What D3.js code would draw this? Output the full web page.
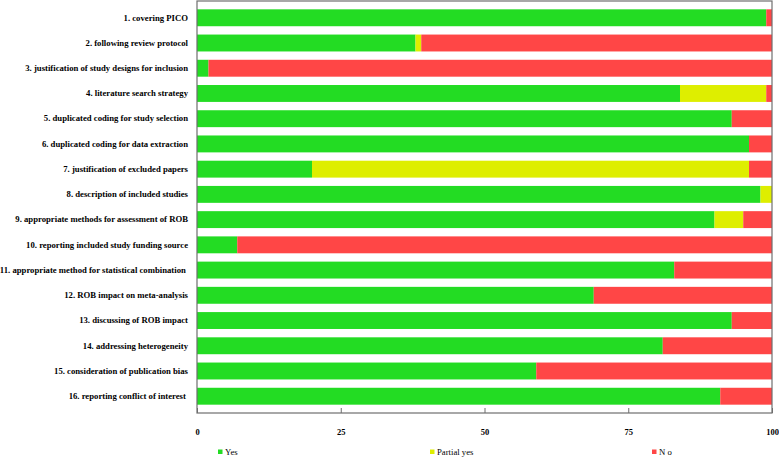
<!DOCTYPE html>
<html>
<head>
<meta charset="utf-8">
<script src="https://cdn.jsdelivr.net/npm/d3@7"></script>
<style>
  html, body { margin: 0; padding: 0; background: #fff; }
  svg { display: block; }
</style>
</head>
<body>
<svg id="chart" width="779" height="458"></svg>
<script>
const categories = [
  "1. covering PICO",
  "2. following review protocol",
  "3. justification of study designs for inclusion",
  "4. literature search strategy",
  "5. duplicated coding for study selection",
  "6. duplicated coding for data extraction",
  "7. justification of excluded papers",
  "8. description of included studies",
  "9. appropriate methods for assessment of ROB",
  "10. reporting included study funding source",
  "11. appropriate method for statistical combination ",
  "12. ROB impact on meta-analysis",
  "13. discussing of ROB impact",
  "14. addressing heterogeneity",
  "15. consideration of publication bias",
  "16. reporting conflict of interest "
];
const yesValues     = [99, 38, 2, 84, 93, 96, 20, 98, 90, 7, 83, 69, 93, 81, 59, 91];
const partialValues = [0, 1, 0, 15, 0, 0, 76, 2, 5, 0, 0, 0, 0, 0, 0, 0];
const noValues      = [1, 61, 98, 1, 7, 4, 4, 0, 5, 93, 17, 31, 7, 19, 41, 9];
const seriesNames = ["Yes", "Partial yes", "N o"];
const seriesColors = ["#23DC23", "#DEEE00", "#FF4646"];
const xTicks = [0, 25, 50, 75, 100];

const svg = d3.select("#chart");
const plotLeft = 197, plotRight = 772, plotTop = 1, plotBottom = 413;

const x = d3.scaleLinear().domain([0, 100]).range([plotLeft, plotRight]);
const y = d3.scaleBand().domain(categories).range([plotTop, plotBottom]).paddingInner(0.33).paddingOuter(0.33);

const rows = categories.map((c, i) => ({cat: c, Yes: yesValues[i], Partial: partialValues[i], No: noValues[i]}));
const stack = d3.stack().keys(["Yes", "Partial", "No"])(rows);

stack.forEach((layer, li) => {
  svg.append("g").selectAll("rect").data(layer).join("rect")
    .attr("x", d => x(d[0]))
    .attr("width", d => Math.max(0, x(d[1]) - x(d[0])))
    .attr("y", d => y(d.data.cat))
    .attr("height", y.bandwidth())
    .attr("fill", seriesColors[li]);
});

// frame
svg.append("rect")
  .attr("x", plotLeft).attr("y", plotTop)
  .attr("width", plotRight - plotLeft).attr("height", plotBottom - plotTop)
  .attr("fill", "none").attr("stroke", "#6e6e6e").attr("stroke-width", 1.2);

// x axis ticks (inward) and labels
const xAxis = d3.axisBottom(x).tickValues(xTicks).tickSizeInner(-5).tickSizeOuter(0).tickPadding(16);
const gx = svg.append("g").attr("transform", `translate(0,${plotBottom})`).call(xAxis);
gx.select(".domain").remove();
gx.selectAll(".tick line").attr("stroke", "#6e6e6e");
gx.selectAll(".tick text")
  .attr("fill", "#000")
  .style("font-family", "'Liberation Serif', 'Times New Roman', serif")
  .style("font-weight", "bold")
  .style("font-size", "8.5px");

// y labels
const yAxis = d3.axisLeft(y).tickSize(0).tickPadding(9);
const gy = svg.append("g").attr("transform", `translate(${plotLeft},0)`).call(yAxis);
gy.select(".domain").remove();
gy.selectAll(".tick text")
  .attr("fill", "#000")
  .style("white-space", "pre")
  .style("font-family", "'Liberation Serif', 'Times New Roman', serif")
  .style("font-weight", "bold")
  .style("font-size", "8.7px");

// legend
const legendX = [218, 430, 652];
const lg = svg.append("g");
seriesNames.forEach((n, i) => {
  lg.append("rect").attr("x", legendX[i]).attr("y", 449.5).attr("width", 4.5).attr("height", 4.5).attr("fill", seriesColors[i]);
  lg.append("text").attr("x", legendX[i] + 7).attr("y", 455)
    .style("font-family", "'Liberation Serif', 'Times New Roman', serif")
    .style("font-size", "8.7px")
    .attr("fill", "#000")
    .text(n);
});
</script>
</body>
</html>
